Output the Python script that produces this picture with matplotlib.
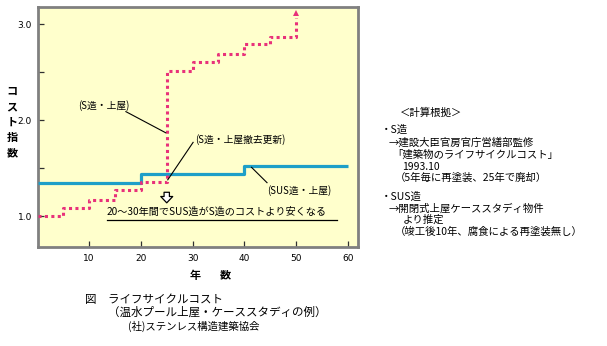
import matplotlib
matplotlib.use("Agg")
import matplotlib.pyplot as plt

plt.rcParams['font.family'] = ['Noto Sans CJK JP', 'DejaVu Sans']

# S造 (steel): cost index per 5-year step, then an arrow onward
s_years = [0, 5, 10, 15, 20, 25, 30, 35, 40, 45, 50]
s_cost = [1.0, 1.09, 1.17, 1.27, 1.36, 2.51, 2.61, 2.69, 2.79, 2.87]
s_arrow_top = 3.12

# SUS造 (stainless): cost index per period
sus_years = [0, 20, 40, 60]
sus_cost = [1.35, 1.44, 1.52]

x_ticks = [10, 20, 30, 40, 50, 60]
y_major = [1.0, 2.0, 3.0]
y_minor = [1.5, 2.5]

W, H = 607, 346
fig = plt.figure(figsize=(W / 100, H / 100), dpi=100)
fig.patch.set_facecolor('white')


def fx(x):
    return x / W


def fy(y):
    return 1 - y / H


ax = fig.add_axes([fx(37.5), fy(247), fx(358) - fx(37.5), fy(7) - fy(247)])
ax.set_facecolor('#FFFFCC')
ax.set_xlim(0, 62)
ax.set_ylim(0.68, 3.18)
for sp in ax.spines.values():
    sp.set_color('#808080')
    sp.set_linewidth(2.0)

ax.set_xticks(x_ticks)
ax.set_xticklabels([str(t) for t in x_ticks], fontsize=6.5, family='DejaVu Sans')
ax.set_yticks(y_major)
ax.set_yticklabels(['1.0', '2.0', '3.0'], fontsize=6.5, family='DejaVu Sans')
ax.set_yticks(y_minor, minor=True)
ax.tick_params(axis='both', which='both', direction='in', color='#303030',
               length=4, width=0.9, pad=5)
ax.tick_params(axis='y', pad=4)

pink = '#E8317A'
blue = '#1E9FC8'

# SUS line
sus_y = sus_cost + [sus_cost[-1]]
ax.step(sus_years, sus_y, where='post', color=blue, lw=2.3, solid_capstyle='butt', zorder=3)

# S line (dotted steps, vertical rise at the end)
sx = list(s_years) + [s_years[-1]]
sy = list(s_cost) + [s_cost[-1], s_arrow_top - 0.05]
ax.step(sx, sy, where='post', color=pink, lw=2.2, linestyle=(0, (1.0, 1.1)),
        dash_capstyle='butt', zorder=4)
ax.plot([s_years[-1]], [s_arrow_top], marker='^', color=pink, markersize=4.5,
        markeredgewidth=0, zorder=4)

lab_fs = 7.0
# callouts
ax.text(12.8, 2.156, '(S造・上屋)', fontsize=lab_fs, ha='center', va='center')
ax.plot([17.1, 24.8], [2.09, 1.87], color='black', lw=0.8, zorder=5)

ax.text(30.5, 1.80, '(S造・上屋撤去更新)', fontsize=lab_fs, ha='left', va='center')
ax.plot([30.1, 25.2], [1.77, 1.38], color='black', lw=0.8, zorder=5)

ax.text(44.4, 1.27, '(SUS造・上屋)', fontsize=lab_fs, ha='left', va='center')
ax.plot([44.4, 41.4], [1.35, 1.51], color='black', lw=0.8, zorder=5)

# hollow down arrow
ax.annotate('', xy=(25, 1.14), xytext=(25, 1.25),
            arrowprops=dict(arrowstyle='simple,head_width=0.72,head_length=0.38,tail_width=0.32',
                            mutation_scale=12, shrinkA=0, shrinkB=0,
                            fc='white', ec='black', lw=0.9))

ax.text(13.4, 1.05, '20～30年間でSUS造がS造のコストより安くなる', fontsize=7.3,
        ha='left', va='center')
ax.plot([13.4, 57.9], [0.965, 0.965], color='black', lw=0.9)

# axis titles
fig.text(fx(12), fy(122), 'コ\nス\nト\n指\n数', fontsize=8, fontweight='bold',
         ha='center', va='center', linespacing=1.25)
fig.text(fx(195), fy(275), '年', fontsize=8, fontweight='bold', ha='center', va='center')
fig.text(fx(225), fy(275), '数', fontsize=8, fontweight='bold', ha='center', va='center')

# caption
fig.text(fx(85), fy(300), '図　ライフサイクルコスト', fontsize=8.3, ha='left', va='center')
fig.text(fx(108), fy(312), '（温水プール上屋・ケーススタディの例）', fontsize=8.3,
         ha='left', va='center')
fig.text(fx(128), fy(326), '(社)ステンレス構造建築協会', fontsize=7.5, ha='left', va='center')

# basis notes
notes = [
    (400, 113, '＜計算根拠＞'),
    (381, 130, '・S造'),
    (389, 142, '→建設大臣官房官庁営繕部監修'),
    (392, 155, '「建築物のライフサイクルコスト」'),
    (402, 167, '1993.10'),
    (395, 178, '（5年毎に再塗装、25年で廃却）'),
    (381, 197, '・SUS造'),
    (389, 208, '→開閉式上屋ケーススタディ物件'),
    (403, 220, 'より推定'),
    (395, 232, '（竣工後10年、腐食による再塗装無し）'),
]
for x, y, t in notes:
    fig.text(fx(x), fy(y), t, fontsize=7.5, ha='left', va='center')

fig.savefig('out.png', dpi=100)
